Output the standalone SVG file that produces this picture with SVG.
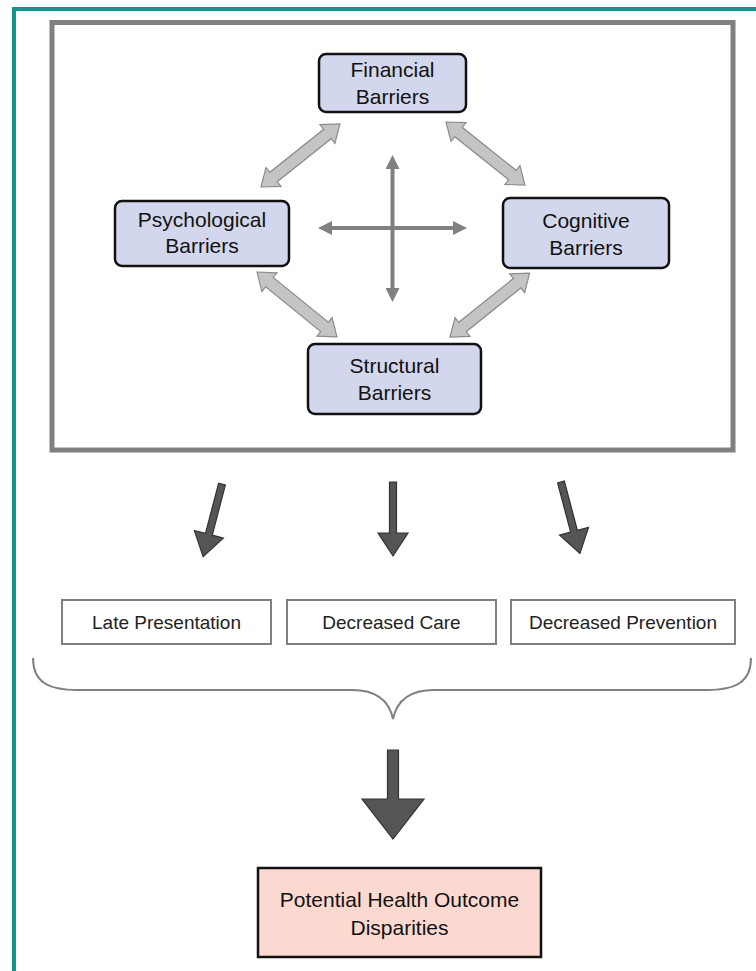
<svg xmlns="http://www.w3.org/2000/svg" width="756" height="971" viewBox="0 0 756 971">
<style>
.barrier rect{fill:#d3d7ed;stroke:#111;stroke-width:2.5}
.barrier text{font-family:"Liberation Sans",Arial,sans-serif;font-size:21px;fill:#111;text-anchor:middle}
.outcome rect{fill:#fff;stroke:#808080;stroke-width:2}
.outcome text{font-family:"Liberation Sans",Arial,sans-serif;font-size:19px;fill:#222;text-anchor:middle}
.final rect{fill:#fcd9d0;stroke:#111;stroke-width:2.5}
.final text{font-family:"Liberation Sans",Arial,sans-serif;font-size:21px;fill:#111;text-anchor:middle}
.block{fill:#c4c4c4;stroke:#8c8c8c;stroke-width:1.2;stroke-linejoin:miter}
.dark{fill:#555;stroke:#333;stroke-width:1.2}
.cross{stroke:#808080;stroke-width:4;fill:none}
</style>
<defs>
<marker id="head" viewBox="0 0 14 14" refX="6" refY="7" markerWidth="14" markerHeight="14" markerUnits="userSpaceOnUse" orient="auto-start-reverse">
<path d="M0,0 L14,7 L0,14 z" fill="#808080"/>
</marker>
</defs>
<rect width="756" height="971" fill="#fff"/>
<g id="frame">
<path d="M14,971 L14,9 L756,9" fill="none" stroke="#13968f" stroke-width="4"/>
<rect x="52" y="22.5" width="681" height="427.5" fill="none" stroke="#808080" stroke-width="5"/>
</g>
<g id="connectors">
<polygon class="block" transform="translate(261,187) rotate(-38.6)" points="0,0 16,-12 16,-6 85,-6 85,-12 101,0 85,12 85,6 16,6 16,12"/>
<polygon class="block" transform="translate(446,122) rotate(38.6)" points="0,0 16,-12 16,-6 85,-6 85,-12 101,0 85,12 85,6 16,6 16,12"/>
<polygon class="block" transform="translate(257,272) rotate(39.1)" points="0,0 16,-12 16,-6 87,-6 87,-12 103,0 87,12 87,6 16,6 16,12"/>
<polygon class="block" transform="translate(450,337) rotate(-38.7)" points="0,0 16,-12 16,-6 86,-6 86,-12 102,0 86,12 86,6 16,6 16,12"/>
<line class="cross" x1="326" y1="228" x2="459" y2="228" marker-start="url(#head)" marker-end="url(#head)"/>
<line class="cross" x1="392.5" y1="163" x2="392.5" y2="294" marker-start="url(#head)" marker-end="url(#head)"/>
<polygon class="dark" transform="translate(222,484) rotate(104.6)" points="0,-3.5 52,-3.5 52,-15 75,0 52,15 52,3.5 0,3.5"/>
<polygon class="dark" transform="translate(393,482) rotate(90)" points="0,-3.5 51,-3.5 51,-15 74,0 51,15 51,3.5 0,3.5"/>
<polygon class="dark" transform="translate(561,482) rotate(75.2)" points="0,-3.5 51,-3.5 51,-15 74,0 51,15 51,3.5 0,3.5"/>
<path d="M33,658 C33,682 48,690 78,690 L352,690 C376,690 389,700 393,719 C397,700 410,690 434,690 L706,690 C736,690 751,682 751,658" fill="none" stroke="#808080" stroke-width="2"/>
<polygon class="dark" points="387.5,750 398.5,750 398.5,799 424,799 393,839 362,799 387.5,799"/>
</g>
<g id="financial" class="barrier">
<rect x="319" y="54" width="147" height="58" rx="7"/>
<text x="392.5" y="77">Financial</text>
<text x="392.5" y="104">Barriers</text>
</g>
<g id="psychological" class="barrier">
<rect x="115" y="201" width="174" height="65" rx="7"/>
<text x="202" y="227">Psychological</text>
<text x="202" y="253">Barriers</text>
</g>
<g id="cognitive" class="barrier">
<rect x="503" y="198" width="166" height="70" rx="7"/>
<text x="586" y="228">Cognitive</text>
<text x="586" y="255">Barriers</text>
</g>
<g id="structural" class="barrier">
<rect x="308" y="344" width="173" height="70" rx="7"/>
<text x="394.5" y="373">Structural</text>
<text x="394.5" y="400">Barriers</text>
</g>
<g id="late" class="outcome">
<rect x="62" y="600" width="209" height="44"/>
<text x="166.5" y="629">Late Presentation</text>
</g>
<g id="care" class="outcome">
<rect x="287" y="600" width="209" height="44"/>
<text x="391.5" y="629">Decreased Care</text>
</g>
<g id="prevention" class="outcome">
<rect x="511" y="600" width="224" height="44"/>
<text x="623" y="629">Decreased Prevention</text>
</g>
<g id="disparities" class="final">
<rect x="258" y="868" width="283" height="89"/>
<text x="399.5" y="907">Potential Health Outcome</text>
<text x="399.5" y="935">Disparities</text>
</g>
</svg>
